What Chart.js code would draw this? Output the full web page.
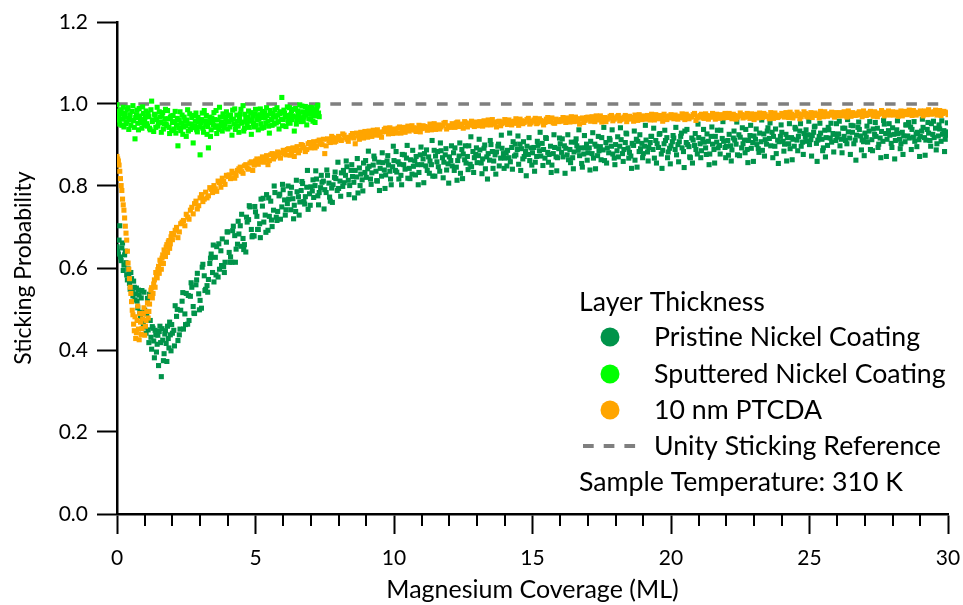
<!DOCTYPE html>
<html>
<head>
<meta charset="utf-8">
<title>Sticking Probability vs Magnesium Coverage</title>
<script src="https://cdn.jsdelivr.net/npm/chart.js@4/dist/chart.umd.min.js"></script>
<style>
  html, body { margin: 0; padding: 0; background: #fff; }
  canvas { display: block; }
</style>
</head>
<body>
<canvas id="chart" width="963" height="605"></canvas>
<script>
// Sticking probability measured during Mg deposition, [coverage (ML), probability]

const pristineNickel = [
  [0.00,0.652],[0.05,0.634],[0.10,0.703],[0.15,0.618],[0.20,0.661],[0.25,0.607],[0.30,0.641],[0.35,0.583],[0.40,0.598],[0.45,0.562],
  [0.50,0.589],[0.55,0.541],[0.60,0.568],[0.65,0.522],[0.70,0.551],[0.75,0.503],[0.80,0.534],[0.85,0.482],[0.90,0.545],[0.95,0.463],
  [1.00,0.497],[1.05,0.441],[1.10,0.526],[1.15,0.418],[1.20,0.472],[1.25,0.402],[1.30,0.453],[1.35,0.381],[1.40,0.437],[1.45,0.414],
  [1.50,0.362],[1.55,0.458],[1.60,0.335],[1.65,0.424],[1.70,0.391],[1.75,0.447],[1.80,0.372],[1.85,0.428],[1.90,0.468],[1.95,0.398],
  [2.00,0.441],[2.1,0.508],[2.2,0.423],[2.3,0.497],[2.4,0.451],[2.5,0.538],[2.6,0.472],[2.7,0.553],[2.8,0.489],[2.9,0.587],
  [3.0,0.521],[3.1,0.609],[3.2,0.548],[3.3,0.572],[3.4,0.634],[3.5,0.566],[3.6,0.652],[3.7,0.597],[3.8,0.671],[3.9,0.614],
  [4.0,0.688],[4.1,0.627],[4.2,0.702],[4.3,0.646],[4.4,0.683],[4.5,0.731],[4.6,0.657],[4.7,0.712],[4.8,0.749],[4.9,0.679],
  [5.0,0.737],[5.1,0.694],[5.2,0.768],[5.3,0.712],[5.4,0.779],[5.5,0.726],[5.6,0.701],[5.7,0.784],[5.8,0.738],[5.9,0.719],
  [6.0,0.791],[6.1,0.742],[6.2,0.768],[6.3,0.797],[6.4,0.753],[6.5,0.786],[6.6,0.761],[6.7,0.806],[6.8,0.774],[6.9,0.743],
  [7.0,0.798],[7.1,0.772],[7.2,0.817],[7.3,0.784],[7.4,0.809],[7.5,0.791],[7.6,0.826],[7.7,0.763],[7.8,0.803],[7.9,0.818],
  [8.0,0.794],[8.1,0.832],[8.2,0.808],[8.3,0.847],[8.4,0.801],[8.5,0.823],[8.6,0.838],[8.7,0.783],[8.8,0.829],[8.9,0.856],
  [9.0,0.821],[9.1,0.848],[9.2,0.832],[9.3,0.866],[9.4,0.812],[9.5,0.843],[9.6,0.857],[9.7,0.827],[9.8,0.851],[9.9,0.803],
  [10.0,0.862],[10.1,0.834],[10.2,0.853],[10.3,0.877],[10.4,0.841],[10.5,0.819],[10.6,0.864],[10.7,0.848],[10.8,0.872],[10.9,0.833],
  [11.0,0.852],[11.1,0.879],[11.2,0.838],[11.3,0.861],[11.4,0.824],[11.5,0.873],[11.6,0.847],[11.7,0.886],[11.8,0.858],[11.9,0.839],
  [12.0,0.871],[12.1,0.849],[12.2,0.893],[12.3,0.862],[12.4,0.831],[12.5,0.878],[12.6,0.856],[12.7,0.898],[12.8,0.847],[12.9,0.869],
  [13.0,0.857],[13.1,0.888],[13.2,0.866],[13.3,0.842],[13.4,0.879],[13.5,0.901],[13.6,0.861],[13.7,0.883],[13.8,0.849],[13.9,0.892],
  [14.0,0.868],[14.1,0.887],[14.2,0.859],[14.3,0.908],[14.4,0.876],[14.5,0.853],[14.6,0.891],[14.7,0.872],[14.8,0.897],[14.9,0.862],
  [15.0,0.881],[15.1,0.858],[15.2,0.899],[15.3,0.873],[15.4,0.889],[15.5,0.916],[15.6,0.877],[15.7,0.851],[15.8,0.894],[15.9,0.869],
  [16.0,0.903],[16.1,0.871],[16.2,0.892],[16.3,0.864],[16.4,0.907],[16.5,0.883],[16.6,0.898],[16.7,0.874],[16.8,0.846],[16.9,0.893],
  [17.0,0.881],[17.1,0.909],[17.2,0.868],[17.3,0.897],[17.4,0.886],[17.5,0.918],[17.6,0.862],[17.7,0.893],[17.8,0.912],[17.9,0.878],
  [18.0,0.901],[18.1,0.871],[18.2,0.913],[18.3,0.889],[18.4,0.927],[18.5,0.882],[18.6,0.904],[18.7,0.863],[18.8,0.909],[18.9,0.891],
  [19.0,0.879],[19.1,0.912],[19.2,0.894],[19.3,0.921],[19.4,0.868],[19.5,0.903],[19.6,0.928],[19.7,0.887],[19.8,0.911],[19.9,0.883],
  [20.0,0.898],[20.1,0.917],[20.2,0.876],[20.3,0.908],[20.4,0.893],[20.5,0.934],[20.6,0.901],[20.7,0.869],[20.8,0.912],[20.9,0.889],
  [21.0,0.918],[21.1,0.886],[21.2,0.907],[21.3,0.927],[21.4,0.878],[21.5,0.902],[21.6,0.921],[21.7,0.893],[21.8,0.936],[21.9,0.909],
  [22.0,0.897],[22.1,0.926],[22.2,0.888],[22.3,0.912],[22.4,0.876],[22.5,0.919],[22.6,0.903],[22.7,0.938],[22.8,0.911],[22.9,0.892],
  [23.0,0.922],[23.1,0.901],[23.2,0.929],[23.3,0.887],[23.4,0.913],[23.5,0.942],[23.6,0.898],[23.7,0.921],[23.8,0.879],[23.9,0.908],
  [24.0,0.931],[24.1,0.902],[24.2,0.918],[24.3,0.891],[24.4,0.914],[24.5,0.939],[24.6,0.921],[24.7,0.897],[24.8,0.928],[24.9,0.909],
  [25.0,0.901],[25.1,0.923],[25.2,0.946],[25.3,0.912],[25.4,0.929],[25.5,0.893],[25.6,0.918],[25.7,0.937],[25.8,0.907],[25.9,0.926],
  [26.0,0.919],[26.1,0.898],[26.2,0.941],[26.3,0.911],[26.4,0.932],[26.5,0.948],[26.6,0.903],[26.7,0.924],[26.8,0.938],[26.9,0.912],
  [27.0,0.929],[27.1,0.907],[27.2,0.889],[27.3,0.939],[27.4,0.921],[27.5,0.902],[27.6,0.933],[27.7,0.951],[27.8,0.914],[27.9,0.924],
  [28.0,0.942],[28.1,0.911],[28.2,0.928],[28.3,0.903],[28.4,0.922],[28.5,0.949],[28.6,0.917],[28.7,0.938],[28.8,0.909],[28.9,0.931],
  [29.0,0.921],[29.1,0.943],[29.2,0.912],[29.3,0.929],[29.4,0.952],[29.5,0.918],[29.6,0.903],[29.7,0.939],[29.8,0.926],[29.9,0.914],
  [30.0,0.932],
  [0.025,0.641],[0.075,0.668],[0.125,0.627],[0.175,0.649],[0.225,0.594],[0.275,0.632],[0.325,0.613],[0.375,0.571],[0.425,0.586],[0.475,0.548],
  [0.525,0.574],[0.575,0.532],[0.625,0.553],[0.675,0.537],[0.725,0.519],[0.775,0.546],[0.825,0.492],[0.875,0.527],[0.925,0.473],[0.975,0.541],
  [1.025,0.456],[1.075,0.488],[1.125,0.449],[1.175,0.536],[1.225,0.431],[1.275,0.457],[1.325,0.422],[1.375,0.448],[1.425,0.395],[1.475,0.436],
  [1.525,0.445],[1.575,0.418],[1.625,0.452],[1.675,0.374],[1.725,0.439],[1.775,0.416],[1.825,0.458],[1.875,0.405],[1.925,0.437],[1.975,0.462],
  [2.05,0.448],[2.15,0.482],[2.25,0.437],[2.35,0.519],[2.45,0.488],[2.55,0.463],[2.65,0.531],[2.75,0.506],[2.85,0.559],[2.95,0.537],
  [3.05,0.502],[3.15,0.581],[3.25,0.557],[3.35,0.611],[3.45,0.589],[3.55,0.626],[3.65,0.578],[3.75,0.642],[3.85,0.603],[3.95,0.663],
  [4.05,0.638],[4.15,0.614],[4.25,0.679],[4.35,0.658],[4.45,0.703],[4.55,0.672],[4.65,0.639],[4.75,0.718],[4.85,0.694],[4.95,0.678],
  [5.05,0.726],[5.15,0.708],[5.25,0.751],[5.35,0.729],[5.45,0.692],[5.55,0.763],[5.65,0.741],[5.75,0.724],[5.85,0.776],[5.95,0.749],
  [6.05,0.766],[6.15,0.757],[6.25,0.782],[6.35,0.769],[6.45,0.738],[6.55,0.774],[6.65,0.789],[6.75,0.762],[6.85,0.797],[6.95,0.781],
  [7.05,0.788],[7.15,0.801],[7.25,0.776],[7.35,0.796],[7.45,0.812],[7.55,0.784],[7.65,0.807],[7.75,0.795],[7.85,0.821],[7.95,0.789],
  [8.05,0.812],[8.15,0.799],[8.25,0.826],[8.35,0.814],[8.45,0.838],[8.55,0.809],[8.65,0.822],[8.75,0.844],[8.85,0.815],[8.95,0.833],
  [9.05,0.842],[9.15,0.817],[9.25,0.851],[9.35,0.836],[9.45,0.858],[9.55,0.824],[9.65,0.839],[9.75,0.861],[9.85,0.836],[9.95,0.847],
  [10.05,0.838],[10.15,0.859],[10.25,0.826],[10.35,0.852],[10.45,0.868],[10.55,0.843],[10.65,0.829],[10.75,0.861],[10.85,0.852],[10.95,0.876],
  [11.05,0.866],[11.15,0.849],[11.25,0.871],[11.35,0.852],[11.45,0.887],[11.55,0.859],[11.65,0.836],[11.75,0.869],[11.85,0.876],[11.95,0.854],
  [12.05,0.862],[12.15,0.881],[12.25,0.846],[12.35,0.873],[12.45,0.889],[12.55,0.864],[12.65,0.872],[12.75,0.853],[12.85,0.884],[12.95,0.877],
  [13.05,0.874],[13.15,0.856],[13.25,0.892],[13.35,0.871],[13.45,0.863],[13.55,0.884],[13.65,0.876],[13.75,0.897],[13.85,0.868],[13.95,0.879],
  [14.05,0.881],[14.15,0.869],[14.25,0.894],[14.35,0.873],[14.45,0.889],[14.55,0.902],[14.65,0.866],[14.75,0.884],[14.85,0.877],[14.95,0.893],
  [15.05,0.894],[15.15,0.872],[15.25,0.886],[15.35,0.904],[15.45,0.868],[15.55,0.882],[15.65,0.897],[15.75,0.879],[15.85,0.871],[15.95,0.891],
  [16.05,0.882],[16.15,0.898],[16.25,0.876],[16.35,0.889],[16.45,0.869],[16.55,0.907],[16.65,0.887],[16.75,0.893],[16.85,0.878],[16.95,0.902],
  [17.05,0.893],[17.15,0.879],[17.25,0.902],[17.35,0.874],[17.45,0.896],[17.55,0.888],[17.65,0.906],[17.75,0.881],[17.85,0.897],[17.95,0.868],
  [18.05,0.886],[18.15,0.897],[18.25,0.879],[18.35,0.906],[18.45,0.893],[18.55,0.873],[18.65,0.899],[18.75,0.914],[18.85,0.884],[18.95,0.904],
  [19.05,0.897],[19.15,0.883],[19.25,0.906],[19.35,0.889],[19.45,0.911],[19.55,0.894],[19.65,0.878],[19.75,0.903],[19.85,0.918],[19.95,0.892],
  [20.05,0.908],[20.15,0.889],[20.25,0.901],[20.35,0.921],[20.45,0.884],[20.55,0.906],[20.65,0.896],[20.75,0.917],[20.85,0.899],[20.95,0.878],
  [21.05,0.903],[21.15,0.914],[21.25,0.893],[21.35,0.909],[21.45,0.921],[21.55,0.889],[21.65,0.907],[21.75,0.899],[21.85,0.916],[21.95,0.894],
  [22.05,0.911],[22.15,0.898],[22.25,0.917],[22.35,0.902],[22.45,0.925],[22.55,0.893],[22.65,0.912],[22.75,0.889],[22.85,0.923],[22.95,0.906],
  [23.05,0.914],[23.15,0.891],[23.25,0.908],[23.35,0.927],[23.45,0.902],[23.55,0.916],[23.65,0.931],[23.75,0.897],[23.85,0.912],[23.95,0.921],
  [24.05,0.909],[24.15,0.926],[24.25,0.903],[24.35,0.918],[24.45,0.897],[24.55,0.912],[24.65,0.934],[24.75,0.907],[24.85,0.919],[24.95,0.925],
  [25.05,0.913],[25.15,0.931],[25.25,0.904],[25.35,0.921],[25.45,0.914],[25.55,0.936],[25.65,0.899],[25.75,0.917],[25.85,0.928],[25.95,0.911],
  [26.05,0.927],[26.15,0.914],[26.25,0.921],[26.35,0.903],[26.45,0.917],[26.55,0.931],[26.65,0.912],[26.75,0.943],[26.85,0.922],[26.95,0.908],
  [27.05,0.919],[27.15,0.934],[27.25,0.913],[27.35,0.926],[27.45,0.941],[27.55,0.917],[27.65,0.909],[27.75,0.928],[27.85,0.935],[27.95,0.904],
  [28.05,0.926],[28.15,0.937],[28.25,0.914],[28.35,0.931],[28.45,0.908],[28.55,0.922],[28.65,0.944],[28.75,0.919],[28.85,0.927],[28.95,0.913],
  [29.05,0.934],[29.15,0.918],[29.25,0.938],[29.35,0.911],[29.45,0.926],[29.55,0.941],[29.65,0.922],[29.75,0.909],[29.85,0.935],[29.95,0.924],
  [2.075,0.410],[2.175,0.499],[2.275,0.451],[2.375,0.540],[2.475,0.462],[2.575,0.533],[2.675,0.564],[2.775,0.490],[2.875,0.571],[2.975,0.498],
  [3.075,0.602],[3.175,0.545],[3.275,0.541],[3.375,0.624],[3.475,0.656],[3.575,0.583],[3.675,0.659],[3.775,0.606],[3.875,0.589],[3.975,0.688],
  [4.075,0.614],[4.175,0.691],[4.275,0.614],[4.375,0.714],[4.475,0.653],[4.575,0.645],[4.675,0.724],[4.775,0.752],[4.875,0.676],[4.975,0.750],
  [5.075,0.694],[5.175,0.674],[5.275,0.770],[5.375,0.687],[5.475,0.771],[5.575,0.717],[5.675,0.800],[5.775,0.716],[5.875,0.780],[5.975,0.804],
  [6.075,0.729],[6.175,0.800],[6.275,0.742],[6.375,0.720],[6.475,0.814],[6.575,0.729],[6.675,0.811],[6.775,0.756],[6.875,0.838],[6.975,0.753],
  [7.075,0.815],[7.175,0.837],[7.275,0.754],[7.375,0.826],[7.475,0.744],[7.575,0.839],[7.675,0.773],[7.775,0.760],[7.875,0.834],[7.975,0.858],
  [8.075,0.775],[8.175,0.838],[8.275,0.861],[8.375,0.779],[8.475,0.852],[8.575,0.771],[8.675,0.867],[8.775,0.801],[8.875,0.788],[8.975,0.862],
  [9.075,0.885],[9.175,0.804],[9.275,0.873],[9.375,0.813],[9.475,0.789],[9.575,0.881],[9.675,0.794],[9.775,0.874],[9.875,0.817],[9.975,0.897],
  [10.075,0.884],[10.175,0.817],[10.275,0.803],[10.375,0.876],[10.475,0.899],[10.575,0.818],[10.675,0.887],[10.775,0.827],[10.875,0.803],[10.975,0.895],
  [11.075,0.808],[11.175,0.888],[11.275,0.831],[11.375,0.911],[11.475,0.824],[11.575,0.884],[11.675,0.905],[11.775,0.820],[11.875,0.891],[11.975,0.807],
  [12.075,0.898],[12.175,0.838],[12.275,0.814],[12.375,0.905],[12.475,0.818],[12.575,0.898],[12.675,0.840],[12.775,0.920],[12.875,0.833],[12.975,0.893],
  [13.075,0.914],[13.175,0.830],[13.275,0.900],[13.375,0.817],[13.475,0.911],[13.575,0.843],[13.675,0.829],[13.775,0.902],[13.875,0.924],[13.975,0.843],
  [14.075,0.849],[14.175,0.929],[14.275,0.841],[14.375,0.902],[14.475,0.922],[14.575,0.838],[14.675,0.908],[14.775,0.825],[14.875,0.918],[14.975,0.851],
  [15.075,0.836],[15.175,0.909],[15.275,0.931],[15.375,0.850],[15.475,0.918],[15.575,0.858],[15.675,0.833],[15.775,0.925],[15.875,0.837],[15.975,0.917],
  [16.075,0.915],[16.175,0.831],[16.275,0.925],[16.375,0.857],[16.475,0.842],[16.575,0.915],[16.675,0.937],[16.775,0.855],[16.875,0.923],[16.975,0.863],
  [17.075,0.839],[17.175,0.930],[17.275,0.842],[17.375,0.921],[17.475,0.864],[17.575,0.943],[17.675,0.856],[17.775,0.916],[17.875,0.937],[17.975,0.852],
  [18.075,0.920],[18.175,0.942],[18.275,0.860],[18.375,0.929],[18.475,0.868],[18.575,0.843],[18.675,0.934],[18.775,0.846],[18.875,0.925],[18.975,0.869],
  [19.075,0.948],[19.175,0.861],[19.275,0.921],[19.375,0.941],[19.475,0.856],[19.575,0.926],[19.675,0.843],[19.775,0.936],[19.875,0.869],[19.975,0.854],
  [20.075,0.923],[20.175,0.943],[20.275,0.859],[20.375,0.929],[20.475,0.845],[20.575,0.938],[20.675,0.871],[20.775,0.856],[20.875,0.928],[20.975,0.951],
  [21.075,0.869],[21.175,0.938],[21.275,0.877],[21.375,0.852],[21.475,0.944],[21.575,0.856],[21.675,0.936],[21.775,0.878],[21.875,0.957],[21.975,0.869],
  [22.075,0.875],[22.175,0.861],[22.275,0.934],[22.375,0.956],[22.475,0.874],[22.575,0.942],[22.675,0.881],[22.775,0.857],[22.875,0.948],[22.975,0.860],
  [23.075,0.939],[23.175,0.882],[23.275,0.961],[23.375,0.873],[23.475,0.934],[23.575,0.954],[23.675,0.869],[23.775,0.939],[23.875,0.855],[23.975,0.949],
  [24.075,0.885],[24.175,0.861],[24.275,0.952],[24.375,0.864],[24.475,0.943],[24.575,0.886],[24.675,0.952],[24.775,0.877],[24.875,0.937],[24.975,0.958],
  [25.075,0.873],[25.175,0.944],[25.275,0.860],[25.375,0.953],[25.475,0.886],[25.575,0.871],[25.675,0.943],[25.775,0.953],[25.875,0.883],[25.975,0.952],
  [26.075,0.958],[26.175,0.881],[26.275,0.941],[26.375,0.962],[26.475,0.877],[26.575,0.947],[26.675,0.863],[26.775,0.956],[26.875,0.888],[26.975,0.874],
  [27.075,0.946],[27.175,0.957],[27.275,0.886],[27.375,0.955],[27.475,0.894],[27.575,0.869],[27.675,0.960],[27.775,0.872],[27.875,0.952],[27.975,0.894],
  [28.075,0.866],[28.175,0.959],[28.275,0.891],[28.375,0.877],[28.475,0.949],[28.575,0.955],[28.675,0.889],[28.775,0.957],[28.875,0.896],[28.975,0.872],
  [29.075,0.963],[29.175,0.875],[29.275,0.955],[29.375,0.897],[29.475,0.958],[29.575,0.888],[29.675,0.949],[29.775,0.959],[29.875,0.884],[29.975,0.954]
];

const sputteredNickel = [
  [0.00,0.998],[0.05,0.972],[0.10,0.951],[0.15,0.986],[0.20,0.963],[0.25,0.944],[0.30,0.978],[0.35,0.957],[0.40,0.991],[0.45,0.966],
  [0.50,0.948],[0.55,0.982],[0.60,0.959],[0.65,0.915],[0.70,0.974],[0.75,0.953],[0.80,0.989],[0.85,0.962],[0.90,0.941],[0.95,0.977],
  [1.00,0.958],[1.05,0.983],[1.10,0.946],[1.15,0.969],[1.20,0.937],[1.25,1.007],[1.30,0.961],[1.35,0.975],[1.40,0.943],[1.45,0.992],
  [1.50,0.954],[1.55,0.968],[1.60,0.931],[1.65,0.979],[1.70,0.952],[1.75,0.987],[1.80,0.947],[1.85,0.964],[1.90,0.928],[1.95,0.971],
  [2.00,0.955],[2.05,0.939],[2.10,0.982],[2.15,0.949],[2.20,0.898],[2.25,0.961],[2.30,0.935],[2.35,0.973],[2.40,0.944],[2.45,0.958],
  [2.50,0.921],[2.55,0.986],[2.60,0.951],[2.65,0.938],[2.70,0.967],[2.75,0.905],[2.80,0.947],[2.85,0.978],[2.90,0.932],[2.95,0.956],
  [3.00,0.876],[3.05,0.962],[3.10,0.941],[3.15,0.984],[3.20,0.949],[3.25,0.926],[3.30,0.893],[3.35,0.968],[3.40,0.937],[3.45,0.955],
  [3.50,0.979],[3.55,0.943],[3.60,0.928],[3.65,0.961],[3.70,0.992],[3.75,0.946],[3.80,0.934],[3.85,0.969],[3.90,0.952],[3.95,0.981],
  [4.00,0.939],[4.05,0.957],[4.10,0.973],[4.15,0.924],[4.20,0.963],[4.25,0.988],[4.30,0.947],[4.35,0.958],[4.40,0.931],[4.45,0.976],
  [4.50,0.953],[4.55,0.996],[4.60,0.941],[4.65,0.967],[4.70,0.949],[4.75,0.983],[4.80,0.958],[4.85,0.926],[4.90,0.971],[4.95,0.944],
  [5.00,0.987],[5.05,0.961],[5.10,0.937],[5.15,0.974],[5.20,0.952],[5.25,0.982],[5.30,0.943],[5.35,0.966],[5.40,0.991],[5.45,0.958],
  [5.50,0.929],[5.55,0.977],[5.60,0.948],[5.65,0.969],[5.70,0.986],[5.75,0.954],[5.80,0.973],[5.85,0.939],[5.90,0.981],[5.95,1.016],
  [6.00,0.962],[6.05,0.978],[6.10,0.945],[6.15,0.993],[6.20,0.967],[6.25,0.953],[6.30,0.984],[6.35,0.971],[6.40,0.934],[6.45,0.989],
  [6.50,0.962],[6.55,0.976],[6.60,0.998],[6.65,0.957],[6.70,0.981],[6.75,0.968],[6.80,0.994],[6.85,0.949],[6.90,0.977],[6.95,0.986],
  [7.00,0.963],[7.05,0.991],[7.10,0.972],[7.15,0.955],[7.20,0.984],[7.25,0.997],[7.30,0.969],
  [0.025,0.983],[0.075,0.961],[0.125,0.975],[0.175,0.948],[0.225,0.992],[0.275,0.969],[0.325,0.952],[0.375,0.987],[0.425,0.938],[0.475,0.974],
  [0.525,0.961],[0.575,0.996],[0.625,0.943],[0.675,0.967],[0.725,0.985],[0.775,0.937],[0.825,0.971],[0.875,0.955],[0.925,0.993],[0.975,0.948],
  [1.025,0.969],[1.075,0.952],[1.125,0.978],[1.175,0.941],[1.225,0.986],[1.275,0.957],[1.325,0.933],[1.375,0.973],[1.425,0.962],[1.475,0.946],
  [1.525,0.981],[1.575,0.955],[1.625,0.972],[1.675,0.939],[1.725,0.964],[1.775,0.951],[1.825,0.984],[1.875,0.943],[1.925,0.967],[1.975,0.935],
  [2.025,0.972],[2.075,0.957],[2.125,0.929],[2.175,0.965],[2.225,0.942],[2.275,0.981],[2.325,0.953],[2.375,0.926],[2.425,0.968],[2.475,0.947],
  [2.525,0.961],[2.575,0.934],[2.625,0.976],[2.675,0.951],[2.725,0.942],[2.775,0.972],[2.825,0.958],[2.875,0.937],[2.925,0.967],[2.975,0.944],
  [3.025,0.953],[3.075,0.978],[3.125,0.931],[3.175,0.959],[3.225,0.972],[3.275,0.945],[3.325,0.957],[3.375,0.921],[3.425,0.966],[3.475,0.949],
  [3.525,0.962],[3.575,0.984],[3.625,0.947],[3.675,0.938],[3.725,0.968],[3.775,0.955],[3.825,0.976],[3.875,0.942],[3.925,0.963],[3.975,0.957],
  [4.025,0.971],[4.075,0.944],[4.125,0.962],[4.175,0.985],[4.225,0.951],[4.275,0.938],[4.325,0.973],[4.375,0.946],[4.425,0.965],[4.475,0.987],
  [4.525,0.956],[4.575,0.934],[4.625,0.975],[4.675,0.958],[4.725,0.967],[4.775,0.943],[4.825,0.979],[4.875,0.961],[4.925,0.952],[4.975,0.976],
  [5.025,0.948],[5.075,0.971],[5.125,0.964],[5.175,0.988],[5.225,0.941],[5.275,0.967],[5.325,0.979],[5.375,0.953],[5.425,0.972],[5.475,0.946],
  [5.525,0.984],[5.575,0.962],[5.625,0.975],[5.675,0.951],[5.725,0.968],[5.775,0.991],[5.825,0.957],[5.875,0.977],[5.925,0.963],[5.975,0.947],
  [6.025,0.985],[6.075,0.968],[6.125,0.972],[6.175,0.956],[6.225,0.991],[6.275,0.974],[6.325,0.962],[6.375,0.987],[6.425,0.969],[6.475,0.951],
  [6.525,0.983],[6.575,0.972],[6.625,0.966],[6.675,0.995],[6.725,0.958],[6.775,0.979],[6.825,0.973],[6.875,0.988],[6.925,0.964],[6.975,0.992],
  [7.025,0.975],[7.075,0.958],[7.125,0.986],[7.175,0.971],[7.225,0.993],[7.275,0.978]
];

const ptcda10nm = [
  [0.00,0.872],[0.05,0.861],[0.10,0.836],[0.15,0.801],[0.20,0.768],[0.25,0.741],[0.30,0.702],[0.35,0.668],[0.40,0.612],[0.45,0.574],
  [0.50,0.538],[0.55,0.497],[0.60,0.463],[0.65,0.481],[0.70,0.442],[0.75,0.507],[0.80,0.425],[0.85,0.468],[0.90,0.452],[0.95,0.489],
  [1.00,0.436],[1.05,0.472],[1.10,0.515],[1.15,0.494],[1.20,0.531],[1.25,0.552],[1.30,0.538],[1.35,0.571],[1.40,0.589],[1.45,0.576],
  [1.50,0.604],[1.55,0.619],[1.60,0.597],[1.65,0.632],[1.70,0.644],[1.75,0.628],[1.80,0.657],[1.85,0.663],[1.90,0.648],[1.95,0.676],
  [2.00,0.669],[2.1,0.692],[2.2,0.674],[2.3,0.708],[2.4,0.716],[2.5,0.731],[2.6,0.719],[2.7,0.748],[2.8,0.757],[2.9,0.744],
  [3.0,0.771],[3.1,0.762],[3.2,0.785],[3.3,0.776],[3.4,0.792],[3.5,0.801],[3.6,0.787],[3.7,0.808],[3.8,0.819],[3.9,0.804],
  [4.0,0.823],[4.1,0.818],[4.2,0.831],[4.3,0.826],[4.4,0.842],[4.5,0.835],[4.6,0.849],[4.7,0.844],[4.8,0.856],[4.9,0.838],
  [5.0,0.861],[5.1,0.853],[5.2,0.866],[5.3,0.858],[5.4,0.874],[5.5,0.862],[5.6,0.879],[5.7,0.871],[5.8,0.883],[5.9,0.868],
  [6.0,0.887],[6.1,0.876],[6.2,0.891],[6.3,0.882],[6.4,0.872],[6.5,0.896],[6.6,0.887],[6.7,0.899],[6.8,0.884],[6.9,0.903],
  [7.0,0.893],[7.1,0.908],[7.2,0.897],[7.3,0.912],[7.4,0.901],[7.5,0.879],[7.6,0.915],[7.7,0.906],[7.8,0.918],[7.9,0.909],
  [8.0,0.921],[8.1,0.911],[8.2,0.924],[8.3,0.914],[8.4,0.919],[8.5,0.928],[8.6,0.903],[8.7,0.922],[8.8,0.931],[8.9,0.917],
  [9.0,0.926],[9.1,0.934],[9.2,0.921],[9.3,0.929],[9.4,0.937],[9.5,0.924],[9.6,0.932],[9.7,0.941],[9.8,0.927],[9.9,0.935],
  [10.0,0.939],[10.1,0.929],[10.2,0.944],[10.3,0.936],[10.4,0.931],[10.5,0.946],[10.6,0.938],[10.7,0.942],[10.8,0.933],[10.9,0.948],
  [11.0,0.940],[11.1,0.945],[11.2,0.936],[11.3,0.951],[11.4,0.943],[11.5,0.938],[11.6,0.949],[11.7,0.944],[11.8,0.953],[11.9,0.939],
  [12.0,0.947],[12.1,0.952],[12.2,0.943],[12.3,0.956],[12.4,0.948],[12.5,0.941],[12.6,0.954],[12.7,0.949],[12.8,0.958],[12.9,0.945],
  [13.0,0.951],[13.1,0.957],[13.2,0.946],[13.3,0.953],[13.4,0.961],[13.5,0.949],[13.6,0.955],[13.7,0.944],[13.8,0.958],[13.9,0.952],
  [14.0,0.962],[14.1,0.950],[14.2,0.957],[14.3,0.953],[14.4,0.964],[14.5,0.948],[14.6,0.959],[14.7,0.955],[14.8,0.962],[14.9,0.951],
  [15.0,0.958],[15.1,0.965],[15.2,0.954],[15.3,0.960],[15.4,0.949],[15.5,0.963],[15.6,0.957],[15.7,0.966],[15.8,0.953],[15.9,0.961],
  [16.0,0.958],[16.1,0.967],[16.2,0.955],[16.3,0.962],[16.4,0.969],[16.5,0.957],[16.6,0.964],[16.7,0.951],[16.8,0.966],[16.9,0.960],
  [17.0,0.968],[17.1,0.958],[17.2,0.965],[17.3,0.971],[17.4,0.961],[17.5,0.956],[17.6,0.967],[17.7,0.963],[17.8,0.970],[17.9,0.959],
  [18.0,0.966],[18.1,0.972],[18.2,0.962],[18.3,0.968],[18.4,0.957],[18.5,0.970],[18.6,0.964],[18.7,0.973],[18.8,0.960],[18.9,0.967],
  [19.0,0.971],[19.1,0.963],[19.2,0.969],[19.3,0.975],[19.4,0.961],[19.5,0.968],[19.6,0.972],[19.7,0.958],[19.8,0.970],[19.9,0.966],
  [20.0,0.974],[20.1,0.964],[20.2,0.970],[20.3,0.967],[20.4,0.976],[20.5,0.962],[20.6,0.971],[20.7,0.968],[20.8,0.974],[20.9,0.960],
  [21.0,0.969],[21.1,0.975],[21.2,0.965],[21.3,0.972],[21.4,0.968],[21.5,0.977],[21.6,0.963],[21.7,0.971],[21.8,0.974],[21.9,0.966],
  [22.0,0.970],[22.1,0.977],[22.2,0.964],[22.3,0.972],[22.4,0.968],[22.5,0.978],[22.6,0.966],[22.7,0.973],[22.8,0.969],[22.9,0.976],
  [23.0,0.962],[23.1,0.971],[23.2,0.978],[23.3,0.967],[23.4,0.974],[23.5,0.970],[23.6,0.979],[23.7,0.965],[23.8,0.973],[23.9,0.969],
  [24.0,0.977],[24.1,0.968],[24.2,0.974],[24.3,0.980],[24.4,0.966],[24.5,0.972],[24.6,0.976],[24.7,0.969],[24.8,0.981],[24.9,0.970],
  [25.0,0.975],[25.1,0.967],[25.2,0.978],[25.3,0.972],[25.4,0.982],[25.5,0.969],[25.6,0.976],[25.7,0.973],[25.8,0.980],[25.9,0.968],
  [26.0,0.975],[26.1,0.979],[26.2,0.971],[26.3,0.977],[26.4,0.983],[26.5,0.970],[26.6,0.976],[26.7,0.973],[26.8,0.981],[26.9,0.969],
  [27.0,0.977],[27.1,0.974],[27.2,0.982],[27.3,0.970],[27.4,0.978],[27.5,0.975],[27.6,0.984],[27.7,0.971],[27.8,0.979],[27.9,0.973],
  [28.0,0.981],[28.1,0.976],[28.2,0.970],[28.3,0.983],[28.4,0.977],[28.5,0.974],[28.6,0.985],[28.7,0.972],[28.8,0.980],[28.9,0.976],
  [29.0,0.983],[29.1,0.971],[29.2,0.979],[29.3,0.986],[29.4,0.975],[29.5,0.981],[29.6,0.973],[29.7,0.984],[29.8,0.977],[29.9,0.980],
  [30.0,0.974],
  [0.025,0.866],[0.075,0.851],[0.125,0.818],[0.175,0.789],[0.225,0.754],[0.275,0.722],[0.325,0.685],[0.375,0.641],[0.425,0.597],[0.475,0.553],
  [0.525,0.518],[0.575,0.486],[0.625,0.447],[0.675,0.428],[0.725,0.472],[0.775,0.451],[0.825,0.489],[0.875,0.438],[0.925,0.476],[0.975,0.503],
  [1.025,0.458],[1.075,0.494],[1.125,0.478],[1.175,0.512],[1.225,0.546],[1.275,0.527],[1.325,0.561],[1.375,0.553],[1.425,0.581],[1.475,0.596],
  [1.525,0.587],[1.575,0.612],[1.625,0.624],[1.675,0.611],[1.725,0.639],[1.775,0.651],[1.825,0.638],[1.875,0.667],[1.925,0.659],[1.975,0.684],
  [2.05,0.681],[2.15,0.699],[2.25,0.688],[2.35,0.712],[2.45,0.703],[2.55,0.724],[2.65,0.741],[2.75,0.732],[2.85,0.763],[2.95,0.752],
  [3.05,0.779],[3.15,0.768],[3.25,0.771],[3.35,0.796],[3.45,0.784],[3.55,0.793],[3.65,0.812],[3.75,0.797],[3.85,0.811],[3.95,0.826],
  [4.05,0.827],[4.15,0.836],[4.25,0.819],[4.35,0.838],[4.45,0.846],[4.55,0.831],[4.65,0.852],[4.75,0.841],[4.85,0.859],[4.95,0.851],
  [5.05,0.866],[5.15,0.859],[5.25,0.871],[5.35,0.864],[5.45,0.852],[5.55,0.876],[5.65,0.866],[5.75,0.878],[5.85,0.874],[5.95,0.881],
  [6.05,0.879],[6.15,0.889],[6.25,0.875],[6.35,0.893],[6.45,0.886],[6.55,0.881],[6.65,0.901],[6.75,0.893],[6.85,0.889],[6.95,0.906],
  [7.05,0.899],[7.15,0.893],[7.25,0.909],[7.35,0.903],[7.45,0.914],[7.55,0.898],[7.65,0.911],[7.75,0.921],[7.85,0.907],[7.95,0.916],
  [8.05,0.913],[8.15,0.927],[8.25,0.918],[8.35,0.909],[8.45,0.923],[8.55,0.917],[8.65,0.929],[8.75,0.914],[8.85,0.924],[8.95,0.933],
  [9.05,0.919],[9.15,0.928],[9.25,0.936],[9.35,0.924],[9.45,0.931],[9.55,0.919],[9.65,0.938],[9.75,0.933],[9.85,0.942],[9.95,0.928],
  [10.05,0.934],[10.15,0.941],[10.25,0.929],[10.35,0.943],[10.45,0.938],[10.55,0.934],[10.65,0.947],[10.75,0.936],[10.85,0.941],[10.95,0.932],
  [11.05,0.947],[11.15,0.941],[11.25,0.944],[11.35,0.937],[11.45,0.952],[11.55,0.943],[11.65,0.939],[11.75,0.948],[11.85,0.955],[11.95,0.944],
  [12.05,0.943],[12.15,0.949],[12.25,0.954],[12.35,0.945],[12.45,0.951],[12.55,0.957],[12.65,0.944],[12.75,0.952],[12.85,0.948],[12.95,0.956],
  [13.05,0.947],[13.15,0.953],[13.25,0.959],[13.35,0.949],[13.45,0.955],[13.55,0.962],[13.65,0.951],[13.75,0.957],[13.85,0.947],[13.95,0.956],
  [14.05,0.955],[14.15,0.961],[14.25,0.949],[14.35,0.958],[14.45,0.953],[14.55,0.963],[14.65,0.952],[14.75,0.958],[14.85,0.965],[14.95,0.954],
  [15.05,0.961],[15.15,0.952],[15.25,0.964],[15.35,0.958],[15.45,0.955],[15.55,0.967],[15.65,0.959],[15.75,0.954],[15.85,0.963],[15.95,0.957],
  [16.05,0.962],[16.15,0.959],[16.25,0.966],[16.35,0.956],[16.45,0.963],[16.55,0.968],[16.65,0.958],[16.75,0.964],[16.85,0.955],[16.95,0.967],
  [17.05,0.963],[17.15,0.969],[17.25,0.957],[17.35,0.965],[17.45,0.971],[17.55,0.961],[17.65,0.957],[17.75,0.966],[17.85,0.972],[17.95,0.963],
  [18.05,0.969],[18.15,0.959],[18.25,0.965],[18.35,0.972],[18.45,0.963],[18.55,0.967],[18.65,0.958],[18.75,0.969],[18.85,0.974],[18.95,0.962],
  [19.05,0.966],[19.15,0.972],[19.25,0.961],[19.35,0.968],[19.45,0.974],[19.55,0.964],[19.65,0.969],[19.75,0.975],[19.85,0.962],[19.95,0.971],
  [20.05,0.967],[20.15,0.973],[20.25,0.963],[20.35,0.970],[20.45,0.966],[20.55,0.975],[20.65,0.964],[20.75,0.969],[20.85,0.977],[20.95,0.966],
  [21.05,0.972],[21.15,0.966],[21.25,0.976],[21.35,0.963],[21.45,0.971],[21.55,0.968],[21.65,0.975],[21.75,0.965],[21.85,0.970],[21.95,0.977],
  [22.05,0.967],[22.15,0.972],[22.25,0.975],[22.35,0.963],[22.45,0.971],[22.55,0.974],[22.65,0.968],[22.75,0.977],[22.85,0.965],[22.95,0.972],
  [23.05,0.975],[23.15,0.966],[23.25,0.973],[23.35,0.977],[23.45,0.969],[23.55,0.964],[23.65,0.974],[23.75,0.978],[23.85,0.967],[23.95,0.972],
  [24.05,0.972],[24.15,0.979],[24.25,0.967],[24.35,0.975],[24.45,0.971],[24.55,0.980],[24.65,0.964],[24.75,0.974],[24.85,0.977],[24.95,0.968],
  [25.05,0.979],[25.15,0.972],[25.25,0.975],[25.35,0.966],[25.45,0.977],[25.55,0.981],[25.65,0.970],[25.75,0.976],[25.85,0.973],[25.95,0.979],
  [26.05,0.971],[26.15,0.976],[26.25,0.981],[26.35,0.968],[26.45,0.975],[26.55,0.979],[26.65,0.972],[26.75,0.978],[26.85,0.974],[26.95,0.983],
  [27.05,0.972],[27.15,0.978],[27.25,0.975],[27.35,0.981],[27.45,0.969],[27.55,0.977],[27.65,0.980],[27.75,0.974],[27.85,0.983],[27.95,0.976],
  [28.05,0.973],[28.15,0.980],[28.25,0.977],[28.35,0.971],[28.45,0.982],[28.55,0.978],[28.65,0.975],[28.75,0.984],[28.85,0.973],[28.95,0.979],
  [29.05,0.977],[29.15,0.983],[29.25,0.974],[29.35,0.980],[29.45,0.977],[29.55,0.985],[29.65,0.976],[29.75,0.972],[29.85,0.982],[29.95,0.978]
];

// Reference line for a sticking probability of one
const unityReference = [[0, 1], [30, 1]];

// Axis ticks and labels
const xMajorTicks = [0, 5, 10, 15, 20, 25, 30];
const xTickLabels = ['0', '5', '10', '15', '20', '25', '30'];
const xMinorTicks = [1, 2, 3, 4, 6, 7, 8, 9, 11, 12, 13, 14, 16, 17, 18, 19, 21, 22, 23, 24, 26, 27, 28, 29];
const yTicks = [0, 0.2, 0.4, 0.6, 0.8, 1.0, 1.2];
const yTickLabels = ['0.0', '0.2', '0.4', '0.6', '0.8', '1.0', '1.2'];

const legendTitle = 'Layer Thickness';
const legendNote = 'Sample Temperature: 310 K';

const COLORS = {
  pristine: '#00934a',
  sputtered: '#00ff00',
  ptcda: '#ffa500',
  unity: '#7f7f7f'
};

const FONT = 'Lato, "Open Sans", sans-serif';

// Minor ticks on the coverage axis
const minorTickPlugin = {
  id: 'minorTicks',
  afterDraw(chart) {
    const xs = chart.scales.x;
    const ctx = chart.ctx;
    ctx.save();
    ctx.strokeStyle = '#000';
    ctx.lineWidth = 2;
    xMinorTicks.forEach(v => {
      const px = Math.round(xs.getPixelForValue(v));
      ctx.beginPath();
      ctx.moveTo(px, xs.top);
      ctx.lineTo(px, xs.top + 12);
      ctx.stroke();
    });
    ctx.restore();
  }
};

// Legend block placed in the lower right of the plot
const layerLegendPlugin = {
  id: 'layerLegend',
  afterDraw(chart) {
    const ctx = chart.ctx;
    const left = 579, markerX = 610, textX = 654;
    const rows = [337, 374, 410, 446];
    const order = [2, 1, 0, 3];
    ctx.save();
    ctx.font = '26.7px ' + FONT;
    ctx.fillStyle = '#000';
    ctx.textBaseline = 'middle';
    ctx.textAlign = 'left';
    ctx.fillText(legendTitle, left, 302);
    order.forEach((di, row) => {
      const ds = chart.data.datasets[di];
      const y = rows[row];
      if (ds.showLine) {
        ctx.save();
        ctx.strokeStyle = ds.borderColor;
        ctx.lineWidth = 4;
        ctx.setLineDash([10.7, 10]);
        ctx.beginPath();
        ctx.moveTo(583, y);
        ctx.lineTo(637, y);
        ctx.stroke();
        ctx.restore();
      } else {
        ctx.beginPath();
        ctx.fillStyle = ds.backgroundColor;
        ctx.arc(markerX, y, 9.5, 0, Math.PI * 2);
        ctx.fill();
      }
      ctx.fillStyle = '#000';
      ctx.fillText(ds.label, textX, y);
    });
    ctx.fillText(legendNote, left, 482);
    ctx.restore();
  }
};

const pointStyle = color => ({
  backgroundColor: color,
  borderColor: color,
  borderWidth: 0,
  pointStyle: 'rect',
  pointRadius: 3.6,
  pointHoverRadius: 3.6,
  pointBorderWidth: 0
});

new Chart(document.getElementById('chart'), {
  type: 'scatter',
  data: {
    datasets: [
      Object.assign({ label: '10 nm PTCDA', data: ptcda10nm }, pointStyle(COLORS.ptcda)),
      Object.assign({ label: 'Sputtered Nickel Coating', data: sputteredNickel }, pointStyle(COLORS.sputtered)),
      Object.assign({ label: 'Pristine Nickel Coating', data: pristineNickel }, pointStyle(COLORS.pristine)),
      {
        label: 'Unity Sticking Reference',
        data: unityReference,
        showLine: true,
        borderColor: COLORS.unity,
        backgroundColor: COLORS.unity,
        borderWidth: 3.6,
        borderDash: [10.7, 10.63],
        pointRadius: 0,
        pointHoverRadius: 0
      }
    ]
  },
  options: {
    responsive: false,
    animation: false,
    devicePixelRatio: 1,
    events: [],
    layout: { padding: { top: 22, right: 15, left: 0, bottom: 0 } },
    plugins: {
      legend: { display: false },
      tooltip: { enabled: false }
    },
    scales: {
      x: {
        type: 'linear',
        min: 0,
        max: 30,
        afterFit: s => { s.height = 91; s.paddingLeft = 0; s.paddingRight = 0; },
        afterBuildTicks: s => { s.ticks = xMajorTicks.map(v => ({ value: v })); },
        border: { display: true, color: '#000', width: 2.5 },
        grid: {
          display: true,
          drawOnChartArea: false,
          drawTicks: true,
          tickLength: 20,
          tickWidth: 2,
          tickColor: '#000'
        },
        ticks: {
          color: '#000',
          font: { family: FONT, size: 21 },
          padding: 12,
          maxRotation: 0,
          autoSkip: false,
          callback: (v, i) => xTickLabels[i]
        },
        title: {
          display: true,
          text: 'Magnesium Coverage (ML)',
          color: '#000',
          font: { family: FONT, size: 25 },
          padding: { top: 0, bottom: 0 }
        }
      },
      y: {
        type: 'linear',
        min: 0,
        max: 1.2,
        afterFit: s => { s.width = 117; s.paddingTop = 0; s.paddingBottom = 0; },
        afterBuildTicks: s => { s.ticks = yTicks.map(v => ({ value: v })); },
        border: { display: true, color: '#000', width: 2.5 },
        grid: {
          display: true,
          drawOnChartArea: false,
          drawTicks: true,
          tickLength: 20,
          tickWidth: 2,
          tickColor: '#000'
        },
        ticks: {
          color: '#000',
          font: { family: FONT, size: 21 },
          padding: 9,
          autoSkip: false,
          callback: (v, i) => yTickLabels[i]
        },
        title: {
          display: true,
          text: 'Sticking Probability',
          color: '#000',
          font: { family: FONT, size: 23 },
          padding: { top: 10, bottom: 0 }
        }
      }
    }
  },
  plugins: [minorTickPlugin, layerLegendPlugin]
});
</script>
</body>
</html>
